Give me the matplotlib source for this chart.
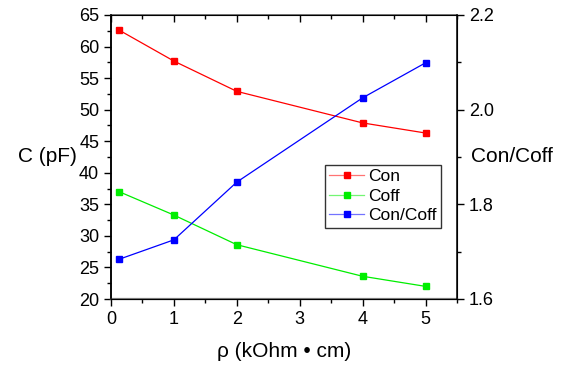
import numpy as np
import matplotlib.pyplot as plt
import matplotlib as mlp
from matplotlib.ticker import MultipleLocator

mlp.rcParams['font.family'] = ['Liberation Sans', 'DejaVu Sans']

# data
rho = [0.13, 1, 2, 4, 5]
c_on = [62.6, 57.7, 52.9, 47.9, 46.3]
c_off = [37.0, 33.3, 28.6, 23.6, 22.0]
ratio = [1.684, 1.725, 1.847, 2.025, 2.099]

fig = plt.figure(figsize=(5.76, 3.65), dpi=100)
ax = fig.add_axes([111/576, 1-299/365, (457-111)/576, (299-15)/365])
ax2 = ax.twinx()

l1, = ax.plot(rho, c_on, color='#ff0000', lw=0.9, marker='s', ms=5, label='Con')
l2, = ax.plot(rho, c_off, color='#00ee00', lw=0.9, marker='s', ms=5, label='Coff')
l3, = ax2.plot(rho, ratio, color='#0000ff', lw=0.9, marker='s', ms=5, label='Con/Coff')

ax.set_xlim(0, 5.5)
ax.set_ylim(20, 65)
ax2.set_ylim(1.6, 2.2)

ax.xaxis.set_major_locator(MultipleLocator(1))
ax.xaxis.set_minor_locator(MultipleLocator(0.5))
ax.yaxis.set_major_locator(MultipleLocator(5))
ax.yaxis.set_minor_locator(MultipleLocator(2.5))
ax2.yaxis.set_major_locator(MultipleLocator(0.2))
ax2.yaxis.set_minor_locator(MultipleLocator(0.1))
ax2.yaxis.set_major_formatter(mlp.ticker.FormatStrFormatter('%.1f'))

for a in (ax, ax2):
    a.tick_params(which='major', length=5, width=1, labelsize=13, direction='out')
    a.tick_params(which='minor', length=3, width=1, direction='out')
ax.tick_params(axis='x', which='both', top=True, direction='out')
ax.spines['bottom'].set_color('#808080')
ax.spines['bottom'].set_linewidth(1.6)
ax.spines['top'].set_color('#606060')
ax.spines['top'].set_linewidth(1.2)
for s in ('left', 'right'):
    ax2.spines[s].set_linewidth(1.1)
ax.spines['left'].set_linewidth(1.1)
# top axis ticks point into the plot
for t in ax.xaxis.get_major_ticks() + ax.xaxis.get_minor_ticks():
    t.tick2line.set_marker(mlp.lines.TICKDOWN)

ax.set_xlabel('ρ (kOhm • cm)', fontsize=15, labelpad=10)
ax.set_ylabel('C (pF)', fontsize=15, rotation=0, va='center')
ax2.set_ylabel('Con/Coff', fontsize=15, rotation=0, va='center', ha='left')
ax.yaxis.set_label_coords(-0.185, 0.5)
ax2.yaxis.set_label_coords(1.04, 0.5)

leg = ax.legend(handles=[l1, l2, l3], loc='upper left',
                bbox_to_anchor=((325-111)/346, (299-165)/284),
                fontsize=12.5, frameon=True, fancybox=False, edgecolor='black',
                handlelength=2.0, handletextpad=0.25, borderpad=0.25,
                labelspacing=0.25, borderaxespad=0)
leg.get_frame().set_linewidth(1)
# legend lines are paler than the markers
for h, c in zip(leg.legend_handles, ['#ff0000', '#00ee00', '#0000ff']):
    h.set_color(mlp.colors.to_rgba(c, 0.55))
    h.set_markerfacecolor(c)
    h.set_markeredgecolor(c)

plt.savefig('out.png', dpi=100)
